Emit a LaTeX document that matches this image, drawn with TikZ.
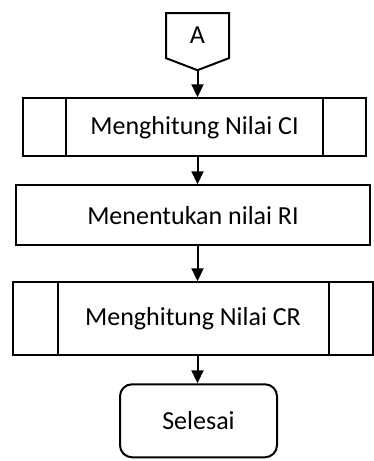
\documentclass[tikz,border=0pt]{standalone}
\usepackage{fontspec}
\setmainfont{Carlito}
\usetikzlibrary{shapes.symbols, arrows.meta, positioning}

\begin{document}
\begin{tikzpicture}[
    x = 1pt, y = 1pt,
    node distance = 28pt,
    every node/.style = {font=\fontsize{26}{30}\selectfont},
    box/.style = {rectangle, draw, line width=2pt, inner sep=0pt, minimum height=58pt},
    subbox/.style = {box, path picture={
        \draw[line width=2pt] ([xshift=#1]path picture bounding box.north west) -- ([xshift=#1]path picture bounding box.south west);
        \draw[line width=2pt] ([xshift=-#1]path picture bounding box.north east) -- ([xshift=-#1]path picture bounding box.south east);}},
    endbox/.style = {rectangle, rounded corners=12pt, draw, line width=2pt, minimum width=157pt, minimum height=73pt},
    offpage/.style = {signal, signal to=south, signal pointer angle=138, draw, line width=2pt,
        minimum width=63pt, minimum height=48pt, inner sep=0pt},
    arrow/.style = {line width=2pt, -{Triangle[width=12pt, length=13pt]}}
]
\useasboundingbox (0,0) rectangle (374,-461);

% Define nodes
\node[offpage, anchor=north] (a) at (197.5,-12) {A};
\node[subbox=43pt, minimum width=343pt, below=26pt of a, xshift=-3pt] (ci) {Menghitung Nilai CI};
\node[box, minimum width=354pt, minimum height=60pt, below=27pt of ci, xshift=-1.5pt] (ri) {Menentukan nilai RI};
\node[subbox=44.5pt, minimum width=360pt, minimum height=73pt, below=35pt of ri] (cr) {Menghitung Nilai CR};
\node[endbox, below=27pt of cr, xshift=5.5pt] (sel) {Selesai};

% Draw arrows
\draw[arrow] (a.south) -- (a.south |- ci.north);
\draw[arrow] (ci.south -| a.south) -- (a.south |- ri.north);
\draw[arrow] (ri.south -| a.south) -- (a.south |- cr.north);
\draw[arrow] (cr.south -| a.south) -- (a.south |- sel.north);

\end{tikzpicture}
\end{document}
